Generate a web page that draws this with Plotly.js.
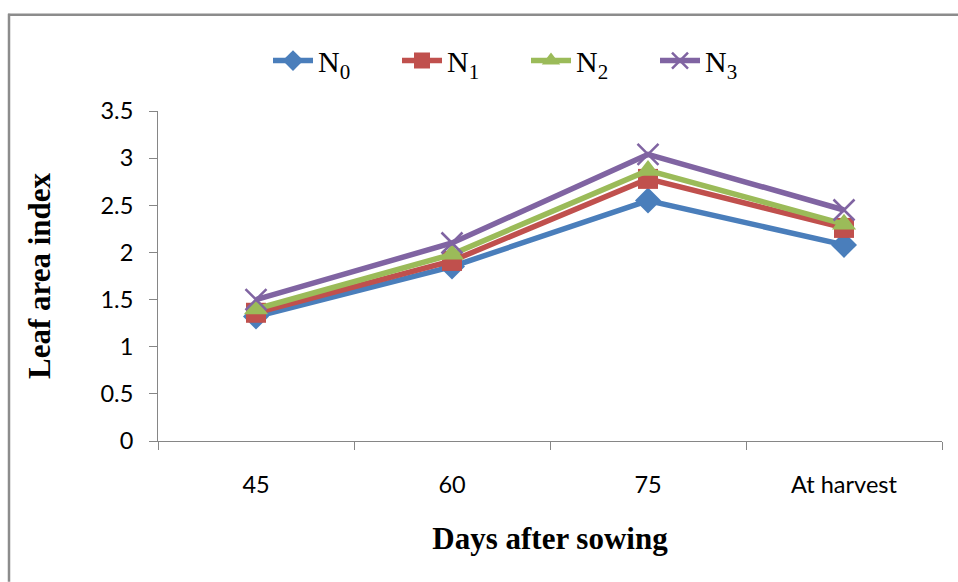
<!DOCTYPE html>
<html>
<head>
<meta charset="utf-8">
<script src="https://cdn.plot.ly/plotly-3.0.1.min.js"></script>
<style>html,body{margin:0;padding:0;background:#fff;}#chart{width:958px;height:582px;}</style>
</head>
<body>
<div id="chart"></div>
<script>
const categories = ["45", "60", "75", "At harvest"];
const seriesNames = ["N<sub>0</sub>", "N<sub>1</sub>", "N<sub>2</sub>", "N<sub>3</sub>"];
const n0 = [1.32, 1.85, 2.55, 2.08];
const n1 = [1.36, 1.91, 2.78, 2.26];
const n2 = [1.40, 1.98, 2.87, 2.30];
const n3 = [1.50, 2.10, 3.04, 2.45];
const yTicks = [0, 0.5, 1, 1.5, 2, 2.5, 3, 3.5];
const yTickText = ["0", "0.5", "1", "1.5", "2", "2.5", "3", "3.5"];

const colors = ["#4A7EBB", "#C0504D", "#9BBB59", "#8064A2"];
const symbols = ["diamond", "square", "triangle-up", "x-thin-open"];
const sizes = [20, 20, 21, 21];
const values = [n0, n1, n2, n3];

const traces = values.map((v, i) => ({
  type: "scatter",
  mode: "lines+markers",
  x: categories,
  y: v,
  name: seriesNames[i],
  line: {color: colors[i], width: 5.5},
  marker: {
    symbol: symbols[i],
    size: sizes[i],
    color: colors[i],
    line: {color: colors[i], width: i === 3 ? 2.5 : 0}
  }
}));

const L = 158, R = 942, T = 110.5, B = 441;
const pw = R - L, ph = B - T;
const px = x => (x - L) / pw;
const py = y => (B - y) / ph;

const layout = {
  width: 958,
  height: 582,
  margin: {l: L, r: 958 - R, t: T, b: 582 - B, pad: 0},
  paper_bgcolor: "#ffffff",
  plot_bgcolor: "#ffffff",
  showlegend: true,
  legend: {
    orientation: "h",
    x: px(526), xanchor: "center",
    y: py(60), yanchor: "middle",
    font: {family: "Liberation Serif, Times New Roman, serif", size: 30, color: "#000"},
    itemwidth: 40,
    entrywidth: 74,
    bgcolor: "rgba(0,0,0,0)"
  },
  xaxis: {
    type: "category",
    range: [-0.5, 3.5],
    showgrid: false,
    zeroline: false,
    showline: true,
    linecolor: "#868686",
    linewidth: 1,
    ticks: "outside",
    tickson: "boundaries",
    ticklen: 8,
    tickcolor: "#868686",
    ticklabelstandoff: 23,
    tickfont: {family: "Lato, Open Sans, sans-serif", size: 23.5, color: "#000"},
    title: {
      text: "<b>Days after sowing</b>",
      font: {family: "Liberation Serif, Times New Roman, serif", size: 31, color: "#000"},
      standoff: 30
    },
    fixedrange: true
  },
  yaxis: {
    range: [0, 3.5],
    tickvals: yTicks,
    ticktext: yTickText,
    showgrid: false,
    zeroline: false,
    showline: true,
    linecolor: "#868686",
    linewidth: 1,
    ticks: "outside",
    ticklen: 8,
    tickcolor: "#868686",
    ticklabelstandoff: 11,
    tickfont: {family: "Lato, Open Sans, sans-serif", size: 23.5, color: "#000"},
    title: {
      text: "<b>Leaf area index</b>",
      font: {family: "Liberation Serif, Times New Roman, serif", size: 31, color: "#000"},
      standoff: 40
    },
    automargin: false,
    fixedrange: true
  },
  shapes: [
    {type: "line", xref: "paper", yref: "paper", x0: px(9), x1: px(9), y0: py(13), y1: py(582), line: {color: "#8C8C8C", width: 2.5}},
    {type: "line", xref: "paper", yref: "paper", x0: px(8), x1: px(958), y0: py(14), y1: py(14), line: {color: "#8C8C8C", width: 2.5}}
  ]
};

Plotly.newPlot("chart", traces, layout, {displayModeBar: false, staticPlot: true});
</script>
</body>
</html>
